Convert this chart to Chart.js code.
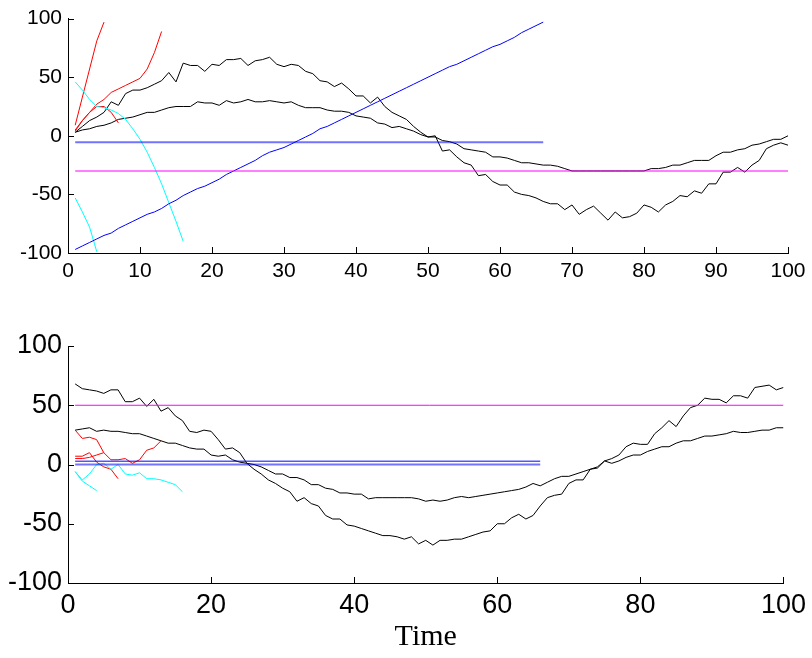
<!DOCTYPE html>
<html><head><meta charset="utf-8">
<script src="https://cdn.jsdelivr.net/npm/chart.js@4.4.0/dist/chart.umd.min.js"></script>
<style>
html,body{margin:0;padding:0;background:#fff;width:812px;height:658px;overflow:hidden}
#c1{position:absolute;left:0;top:0}
#c2{position:absolute;left:0;top:300px}
</style></head><body>
<canvas id="c1" width="812" height="295"></canvas>
<canvas id="c2" width="812" height="358"></canvas>
<script>
// ---------- TOP PANEL DATA (time = index + 1) ----------
const topBlackA = [3,8,13,16,20,29,26,36,39,39,41,44,47,54,46,62,60,60,55,61,
  60,65,65,66,60,64,65,67,61,59,61,60,55,53,47,46,42,45,40,34,
  34,28,33,25,20,17,14,8,3,-1,0,-13,-12,-18,-23,-25,-34,-33,-39,-42,
  -42,-48,-50,-51,-53,-56,-58,-58,-63,-59,-67,-63,-60,-66,-72,-65,-70,-69,-66,-59,
  -61,-65,-59,-56,-51,-52,-47,-49,-41,-41,-31,-31,-27,-31,-25,-21,-11,-8,-6,-8];
const topBlackB = [3,5,6,8,9,11,14,15,16,18,20,20,22,24,25,25,25,29,28,28,
  26,30,28,29,31,29,29,30,29,28,29,26,24,24,24,22,21,21,20,17,
  16,15,11,10,7,8,6,4,1,-1,-1,-4,-5,-7,-11,-12,-13,-14,-18,-18,
  -19,-21,-23,-23,-24,-25,-25,-26,-28,-30,-30,-30,-30,-30,-30,-30,-30,-30,-30,-30,
  -28,-28,-27,-25,-25,-23,-21,-21,-21,-17,-14,-14,-12,-11,-8,-7,-5,-3,-3,0];
const topBlueDiag = [-97,-94,-91,-88,-85,-83,-79,-76,-73,-70,-67,-65,-62,-58,-55,-51,-48,-45,-43,-40,
  -37,-33,-30,-27,-24,-21,-17,-14,-12,-10,-7,-4,-1,2,6,8,11,14,17,20,
  23,26,29,32,35,38,41,44,47,50,53,56,59,61,64,67,70,73,76,78,
  81,84,88,91,94,97];
const topRed1 = [9,33,57,81,97];
const topRed2 = [5,13,20,27,31,37,40,43,46,49,57,71,89];
const topRed3 = [4,13,20,25,25,20,11];
const topCyan1 = [46,39,31,25,24,22,19,14,6,-3,-14,-27,-41,-57,-73,-90];
const topCyan2 = [-53,-65,-78,-99];
const topBlueLevel = -5.5;   const topBlueSpan = [1,66];
const topMagentaLevel = -30; const topMagentaSpan = [1,100];

// ---------- BOTTOM PANEL DATA ----------
const botBlackD = [68,64,63,62,60,63,63,53,53,56,49,55,45,48,41,37,28,27,29,28,
  21,13,14,10,1,-4,-8,-13,-16,-20,-23,-31,-28,-33,-35,-43,-46,-46,-51,-52,
  -54,-56,-58,-60,-60,-61,-63,-61,-67,-64,-68,-64,-64,-63,-63,-61,-59,-57,-56,-50,
  -50,-45,-42,-46,-43,-35,-28,-26,-25,-16,-13,-13,-4,-2,3,5,8,15,18,17,
  17,26,31,37,32,41,48,50,56,55,55,52,58,58,56,65,66,67,63,65];
const botBlackE = [29,30,31,28,29,28,28,27,26,26,24,22,20,18,18,16,14,13,13,8,
  7,8,4,2,1,0,-2,-5,-8,-8,-11,-11,-13,-17,-17,-20,-21,-24,-24,-25,
  -25,-29,-28,-28,-28,-28,-28,-28,-29,-31,-30,-31,-30,-28,-27,-28,-27,-26,-25,-24,
  -23,-22,-21,-19,-16,-18,-15,-12,-10,-10,-8,-6,-4,-3,3,1,3,6,8,8,
  11,13,15,15,18,20,20,22,24,24,25,26,28,27,27,28,29,29,31,31];
const botRed1 = [29,22,23,21,10,4,4,5,1,4,12,14,20];
const botRed2 = [7,7,10,2,-2,-4,-12];
const botRed3 = [5,5,6,8,10];
const botCyan1 = [-6,-13,-8,0,1,-4,0,-8,-9,-7,-12,-12,-13,-15,-17,-23];
const botCyan2 = [-6,-14,-18,-22];
const botBlueLevelA = 2.8; const botBlueLevelB = 0; const botBlueSpan = [1,66];
const botMagentaLevel = 50; const botMagentaSpan = [1,100];

// ---------- AXES ----------
const xRange = [0,100];
const yRange = [-100,100];
const xStepTop = 10;
const xStepBottom = 20;
const yStep = 50;
const xAxisTitle = 'Time';

function series(vals, color, width, order){
  return {data: vals.map((v,i)=>({x:i+1,y:v})), borderColor:color, borderWidth:width,
    pointRadius:0, fill:false, tension:0, order:order};
}
function hline(level, span, color, width, order){
  return {data:[{x:span[0],y:level},{x:span[1],y:level}], borderColor:color, borderWidth:width,
    pointRadius:0, fill:false, tension:0, order:order};
}

const inwardTicks = {
  id:'inwardTicks',
  afterDraw(chart){
    const {ctx, chartArea:a, scales:{x,y}} = chart;
    ctx.save(); ctx.strokeStyle='#000'; ctx.lineWidth=1; ctx.beginPath();
    x.ticks.forEach(t=>{const px=Math.round(x.getPixelForValue(t.value))+0.5; ctx.moveTo(px,a.bottom); ctx.lineTo(px,a.bottom-6);});
    y.ticks.forEach(t=>{const py=Math.round(y.getPixelForValue(t.value))+0.5; ctx.moveTo(a.left,py); ctx.lineTo(a.left+6,py);});
    ctx.stroke(); ctx.restore();
  }
};

function makeOptions(step, fontSize, padTop, xHeight, withTitle){
  return {
    responsive:false, animation:false, events:[],
    layout:{padding:{top:padTop,left:0,right:24,bottom:0}},
    plugins:{legend:{display:false}, tooltip:{enabled:false}},
    scales:{
      x:{type:'linear', min:xRange[0], max:xRange[1],
        afterFit:(s)=>{s.height=xHeight;},
        ticks:{stepSize:step, color:'#000', padding:6, maxRotation:0,
          font:{family:'"Liberation Sans", Arial, sans-serif', size:fontSize}},
        grid:{drawOnChartArea:false, drawTicks:false},
        border:{display:true, color:'#000', width:1},
        title:{display:withTitle, text:xAxisTitle, color:'#000',
          font:{family:'"Liberation Serif", "Times New Roman", serif', size:30},
          padding:{top:0,bottom:3}}
      },
      y:{type:'linear', min:yRange[0], max:yRange[1],
        afterFit:(s)=>{s.width=68;},
        ticks:{stepSize:yStep, color:'#000', padding:6,
          font:{family:'"Liberation Sans", Arial, sans-serif', size:fontSize}},
        grid:{drawOnChartArea:false, drawTicks:false},
        border:{display:true, color:'#000', width:1}
      }
    }
  };
}

new Chart(document.getElementById('c1'), {
  type:'line',
  data:{datasets:[
    hline(topMagentaLevel, topMagentaSpan, 'rgba(255,0,255,0.5)', 2, 0),
    hline(topBlueLevel, topBlueSpan, 'rgba(0,0,255,0.55)', 2, 1),
    series(topBlueDiag, '#0000ff', 1, 2),
    series(topCyan1, '#00ffff', 1, 3),
    series(topCyan2, '#00ffff', 1, 4),
    series(topRed1, '#ff0000', 1, 5),
    series(topRed2, '#ff0000', 1, 6),
    series(topRed3, '#ff0000', 1, 7),
    series(topBlackA, '#000000', 1, 8),
    series(topBlackB, '#000000', 1, 9)
  ]},
  options: makeOptions(xStepTop, 21, 16, 42, false),
  plugins:[inwardTicks]
});

new Chart(document.getElementById('c2'), {
  type:'line',
  data:{datasets:[
    hline(botMagentaLevel, botMagentaSpan, '#ff00ff', 1, 0),
    hline(botBlueLevelA, botBlueSpan, '#0000ff', 1, 1),
    hline(botBlueLevelB, botBlueSpan, 'rgba(0,0,255,0.55)', 2, 2),
    series(botCyan1, '#00ffff', 1, 3),
    series(botCyan2, '#00ffff', 1, 4),
    series(botRed1, '#ff0000', 1, 5),
    series(botRed2, '#ff0000', 1, 6),
    series(botRed3, '#ff0000', 1, 7),
    series(botBlackD, '#000000', 1, 8),
    series(botBlackE, '#000000', 1, 9)
  ]},
  options: makeOptions(xStepBottom, 27, 46, 75, true),
  plugins:[inwardTicks]
});
</script>
</body></html>
